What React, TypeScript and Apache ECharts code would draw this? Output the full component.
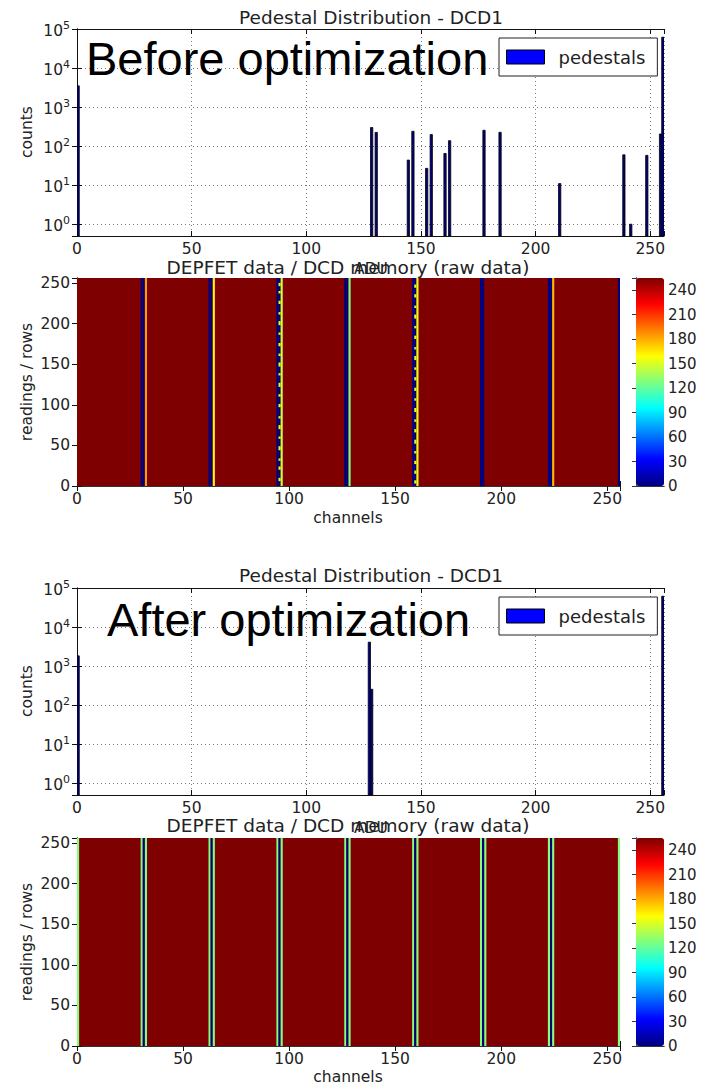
import React, { useEffect, useRef } from 'react';
import * as echarts from 'echarts';

// ---------------- data ----------------
const X_MAX = 256;
const X_INTERVAL = 50;
const HIST_MIN = 0.5;
const HIST_MAX = 100000;
const ROWS_MAX = 256;
const CB_MAX = 255;
const CB_INTERVAL = 30;

const BEFORE_BINS = [0, 128, 130, 144, 146, 152, 154, 160, 162, 177, 184, 210, 238, 241, 248, 254, 255];
const BEFORE_COUNTS = [3500, 300, 225, 44, 240, 27, 198, 65, 138, 255, 226, 11, 60, 1, 58, 205, 61500];
const AFTER_BINS = [0, 127, 128, 255];
const AFTER_COUNTS = [1830, 4100, 255, 61500];

const BACKGROUND_VALUE = 255;
const BEFORE_COLUMNS = [30, 31, 32, 62, 63, 64, 94, 95, 96, 126, 127, 128, 158, 159, 160, 190, 191, 222, 223, 224, 255];
const BEFORE_COLUMN_VALUES = [0, 0, 184, 0, 0, 162, 0, 0, 146, 0, 0, 128, 0, 0, 154, 0, 0, 0, 0, 177, 0];
// [column, rowStart, rowEnd, value]
const BEFORE_NOISE = [
  [95, 6, 10, 150], [95, 20, 24, 160], [95, 31, 34, 140], [95, 44, 49, 152], [95, 58, 61, 146],
  [95, 70, 75, 162], [95, 83, 86, 144], [95, 97, 101, 152], [95, 110, 113, 160], [95, 122, 127, 150],
  [95, 136, 139, 140], [95, 147, 152, 154], [95, 160, 163, 150], [95, 172, 176, 160], [95, 186, 189, 144],
  [95, 198, 203, 150], [95, 211, 214, 154], [95, 224, 228, 150], [95, 237, 240, 160], [95, 246, 250, 148],
  [159, 3, 7, 152], [159, 15, 19, 146], [159, 27, 31, 160], [159, 40, 43, 150], [159, 52, 57, 144],
  [159, 66, 70, 156], [159, 79, 82, 150], [159, 91, 96, 160], [159, 105, 108, 146], [159, 117, 121, 152],
  [159, 130, 134, 148], [159, 143, 146, 160], [159, 155, 160, 150], [159, 168, 171, 144], [159, 181, 185, 156],
  [159, 194, 197, 150], [159, 206, 211, 160], [159, 219, 222, 146], [159, 232, 236, 152], [159, 244, 248, 150],
];
const AFTER_COLUMNS = [0, 30, 31, 32, 62, 63, 64, 94, 95, 96, 126, 127, 128, 158, 159, 160, 190, 191, 192, 222, 223, 224, 255];
const AFTER_COLUMN_VALUES = [128, 128, 0, 128, 128, 0, 128, 128, 0, 128, 128, 0, 128, 128, 0, 128, 128, 0, 128, 128, 0, 128, 128];

const JET = ['#00007f', '#0000ff', '#007fff', '#00ffff', '#7fff7f', '#ffff00', '#ff7f00', '#ff0000', '#7f0000'];

// ---------------- styling ----------------
const FONT = '"DejaVu Sans", sans-serif';
const BIG_FONT = '"Liberation Sans", Arial, sans-serif';
const TXT = '#222';
const LBL = 15.5;

function histData(bins: number[], counts: number[]) {
  return bins.map((b, i) => [b, counts[i]]);
}
function heatData(cols: number[], vals: number[], noise: number[][]) {
  const d: number[][] = [[0, X_MAX, 0, ROWS_MAX, BACKGROUND_VALUE]];
  cols.forEach((c, i) => d.push([c, c + 1, 0, ROWS_MAX, vals[i]]));
  noise.forEach(([c, y0, y1, v]) => d.push([c, c + 1, y0, y1, v]));
  return d;
}

const histRender = (params: any, api: any) => {
  const x = api.value(0);
  const v = api.value(1);
  const a = api.coord([x, v]);
  const b = api.coord([x + 1, HIST_MIN]);
  return {
    type: 'rect',
    shape: { x: a[0], y: a[1], width: b[0] - a[0], height: b[1] - a[1] },
    style: { fill: '#000080', stroke: '#000', lineWidth: 0.8 },
  };
};
const heatRender = (params: any, api: any) => {
  const a = api.coord([api.value(0), api.value(3)]);
  const b = api.coord([api.value(1), api.value(2)]);
  return {
    type: 'rect',
    shape: { x: a[0], y: a[1], width: b[0] - a[0], height: b[1] - a[1] },
    style: { fill: api.visual('color') },
  };
};

const HIST_W = 587;
const HEAT_W = 543;
const PANEL_H = 207;
const LEFT = 77;
const CB_LEFT = 636;
const CB_W = 28;
const TOPS = { hist1: 29, heat1: 278, hist2: 588, heat2: 838 };

function gridBox(left: number, top: number, width: number, height: number) {
  return { left, top, width, height, containLabel: false, outerBoundsMode: 'none' };
}

const spine = (color = '#111') => ({ show: true, lineStyle: { color, width: 1 } });
const dotted = { show: true, lineStyle: { color: '#777', width: 1, type: [1, 3] } };
const tickIn = { show: true, inside: true, length: 5, lineStyle: { color: '#111' } };
const noLabel = { show: false };
const multipleOf = (step: number) => (v: number) => (Math.abs(v % step) < 1e-9 ? String(v) : '');
const labelStyle = { fontSize: LBL, fontFamily: FONT, color: TXT };

function histAxes(gi: number) {
  const x = [
    { type: 'value', gridIndex: gi, position: 'bottom', min: 0, max: X_MAX, interval: X_INTERVAL,
      axisLine: spine(), axisTick: tickIn, splitLine: dotted,
      axisLabel: { ...labelStyle, margin: 5, formatter: multipleOf(X_INTERVAL), hideOverlap: false } },
    { type: 'value', gridIndex: gi, position: 'top', min: 0, max: X_MAX, interval: X_INTERVAL,
      axisLine: spine(), axisTick: tickIn, splitLine: { show: false }, axisLabel: noLabel },
  ];
  const logLabel = {
    margin: 7,
    formatter: (v: number) => {
      const e = Math.log10(v);
      const r = Math.round(e);
      if (Math.abs(e - r) > 1e-6) return '';
      return `{b|10}{e|${r}}`;
    },
    rich: {
      b: { fontSize: LBL, fontFamily: FONT, color: TXT, verticalAlign: 'bottom' },
      e: { fontSize: 11, fontFamily: FONT, color: TXT, verticalAlign: 'bottom', padding: [0, 0, 8, 0] },
    },
  };
  const y = [
    { type: 'log', logBase: 10, gridIndex: gi, position: 'left', min: HIST_MIN, max: HIST_MAX,
      axisLine: spine(), axisTick: tickIn, splitLine: dotted, minorTick: { show: false }, axisLabel: logLabel },
    { type: 'log', logBase: 10, gridIndex: gi, position: 'right', min: HIST_MIN, max: HIST_MAX,
      axisLine: spine(), axisTick: tickIn, splitLine: { show: false }, axisLabel: noLabel },
  ];
  return { x, y };
}
function heatAxes(gi: number) {
  const x = [
    { type: 'value', gridIndex: gi, position: 'bottom', min: 0, max: X_MAX, interval: X_INTERVAL,
      axisLine: spine('#333'), axisTick: tickIn, splitLine: { show: false },
      axisLabel: { ...labelStyle, margin: 5, formatter: multipleOf(X_INTERVAL) } },
    { type: 'value', gridIndex: gi, position: 'top', min: 0, max: X_MAX, interval: X_INTERVAL,
      axisLine: spine('#333'), axisTick: tickIn, splitLine: { show: false }, axisLabel: noLabel },
  ];
  const y = [
    { type: 'value', gridIndex: gi, position: 'left', min: 0, max: ROWS_MAX, interval: X_INTERVAL,
      axisLine: spine('#333'), axisTick: tickIn, splitLine: { show: false },
      axisLabel: { ...labelStyle, margin: 7, formatter: multipleOf(X_INTERVAL) } },
    { type: 'value', gridIndex: gi, position: 'right', min: 0, max: ROWS_MAX, interval: X_INTERVAL,
      axisLine: spine('#333'), axisTick: tickIn, splitLine: { show: false }, axisLabel: noLabel },
  ];
  return { x, y };
}
function cbAxes(gi: number) {
  const plain = { axisLine: spine('#333'), axisTick: { show: false }, splitLine: { show: false }, axisLabel: noLabel };
  const x = [
    { type: 'value', gridIndex: gi, position: 'bottom', min: 0, max: 1, ...plain },
    { type: 'value', gridIndex: gi, position: 'top', min: 0, max: 1, ...plain },
  ];
  const y = [
    { type: 'value', gridIndex: gi, position: 'left', min: 0, max: CB_MAX, ...plain },
    { type: 'value', gridIndex: gi, position: 'right', min: 0, max: CB_MAX, interval: CB_INTERVAL,
      axisLine: spine('#333'), axisTick: { show: true, inside: true, length: 4, lineStyle: { color: '#333' } },
      splitLine: { show: false },
      axisLabel: { ...labelStyle, fontSize: 15, margin: 4, formatter: multipleOf(CB_INTERVAL) } },
  ];
  return { x, y };
}

function txt(text: string, x: number, y: number, size: number, opts: any = {}) {
  return {
    type: 'text', x, y, rotation: opts.rotation || 0, z: 50,
    style: {
      text, fontSize: size, fontFamily: opts.font || FONT, fill: opts.color || TXT,
      align: opts.align || 'center', verticalAlign: 'middle',
      textAlign: opts.align || 'center', textVerticalAlign: 'middle',
    },
  };
}

function legendAt(top: number) {
  return {
    show: true, left: 499, top, orient: 'horizontal', selectedMode: false,
    backgroundColor: '#fff', borderColor: '#222', borderWidth: 1, borderRadius: 0,
    padding: [10, 12, 10, 7], itemWidth: 38, itemHeight: 14,
    textStyle: { fontSize: 18, fontFamily: FONT, color: TXT, padding: [0, 0, 0, 9] },
    data: [{ name: 'pedestals', icon: 'rect', itemStyle: { color: '#0000ff', borderColor: '#000', borderWidth: 1 } }],
  };
}

export default function App() {
  const ref = useRef<HTMLDivElement>(null);
  useEffect(() => {
    document.body.style.margin = '0';
    if (!ref.current) return;
    const chart = echarts.init(ref.current, null, { renderer: 'svg' });
    const hA1 = histAxes(0), eA1 = heatAxes(1), cA1 = cbAxes(2), hA2 = histAxes(3), eA2 = heatAxes(4), cA2 = cbAxes(5);
    const xAxis = [...hA1.x, ...eA1.x, ...cA1.x, ...hA2.x, ...eA2.x, ...cA2.x];
    const yAxis = [...hA1.y, ...eA1.y, ...cA1.y, ...hA2.y, ...eA2.y, ...cA2.y];
    const option: any = {
      animation: false,
      backgroundColor: '#fff',
      grid: [
        gridBox(LEFT, TOPS.hist1, HIST_W, PANEL_H),
        gridBox(LEFT, TOPS.heat1, HEAT_W, PANEL_H + 1),
        gridBox(CB_LEFT, TOPS.heat1, CB_W, PANEL_H + 1),
        gridBox(LEFT, TOPS.hist2, HIST_W, PANEL_H),
        gridBox(LEFT, TOPS.heat2, HEAT_W, PANEL_H + 1),
        gridBox(CB_LEFT, TOPS.heat2, CB_W, PANEL_H + 1),
      ],
      xAxis,
      yAxis,
      legend: [legendAt(38), legendAt(597)],
      visualMap: [
        { type: 'continuous', seriesIndex: 1, dimension: 4, min: 0, max: CB_MAX, inRange: { color: JET },
          left: CB_LEFT, top: TOPS.heat1, itemWidth: CB_W, itemHeight: PANEL_H + 1, padding: 0,
          calculable: false, text: null, orient: 'vertical', hoverLink: false },
        { type: 'continuous', seriesIndex: 3, dimension: 4, min: 0, max: CB_MAX, inRange: { color: JET },
          left: CB_LEFT, top: TOPS.heat2, itemWidth: CB_W, itemHeight: PANEL_H + 1, padding: 0,
          calculable: false, text: null, orient: 'vertical', hoverLink: false },
      ],
      series: [
        { type: 'custom', name: 'pedestals', xAxisIndex: 0, yAxisIndex: 0, clip: true, silent: true,
          itemStyle: { color: '#0000ff' }, renderItem: histRender, data: histData(BEFORE_BINS, BEFORE_COUNTS) },
        { type: 'custom', name: 'raw1', xAxisIndex: 2, yAxisIndex: 2, clip: true, silent: true,
          encode: { x: [0, 1], y: [2, 3] }, renderItem: heatRender,
          data: heatData(BEFORE_COLUMNS, BEFORE_COLUMN_VALUES, BEFORE_NOISE) },
        { type: 'custom', name: 'pedestals', xAxisIndex: 6, yAxisIndex: 6, clip: true, silent: true,
          itemStyle: { color: '#0000ff' }, renderItem: histRender, data: histData(AFTER_BINS, AFTER_COUNTS) },
        { type: 'custom', name: 'raw2', xAxisIndex: 8, yAxisIndex: 8, clip: true, silent: true,
          encode: { x: [0, 1], y: [2, 3] }, renderItem: heatRender,
          data: heatData(AFTER_COLUMNS, AFTER_COLUMN_VALUES, []) },
      ],
      graphic: [
        txt('Pedestal Distribution - DCD1', 371, 17, 18.5),
        txt('ADU', 371, 269, LBL),
        txt('DEPFET data / DCD memory (raw data)', 348, 267, 18.5),
        txt('counts', 27, 132, LBL, { rotation: Math.PI / 2 }),
        txt('readings / rows', 27, 382, LBL, { rotation: Math.PI / 2 }),
        txt('channels', 348, 518, LBL),
        txt('Before optimization', 86, 58, 47, { font: BIG_FONT, align: 'left', color: '#000' }),
        txt('Pedestal Distribution - DCD1', 371, 575, 18.5),
        txt('ADU', 371, 828, LBL),
        txt('DEPFET data / DCD memory (raw data)', 348, 825, 18.5),
        txt('counts', 27, 691, LBL, { rotation: Math.PI / 2 }),
        txt('readings / rows', 27, 942, LBL, { rotation: Math.PI / 2 }),
        txt('channels', 348, 1077, LBL),
        txt('After optimization', 107, 619, 47, { font: BIG_FONT, align: 'left', color: '#000' }),
      ],
    };
    chart.setOption(option);
    return () => chart.dispose();
  }, []);
  return <div ref={ref} style={{ width: 712, height: 1086 }} />;
}
